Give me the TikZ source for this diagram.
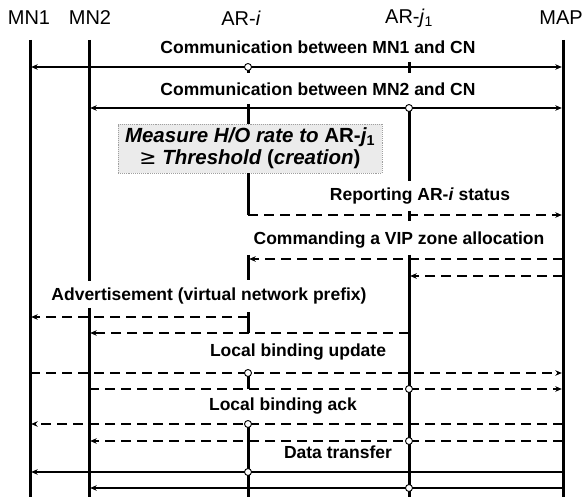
\documentclass[tikz,border=0pt]{standalone}
\usepackage{fontspec}
\usetikzlibrary{arrows.meta}
\newfontfamily\arialfam{Liberation Sans}
\newfontfamily\symfam{DejaVu Sans}
\newcommand\labfont{\arialfam\bfseries\fontsize{17.5}{20}\selectfont}
\newcommand\headfont{\arialfam\fontsize{20}{24}\selectfont}
\newcommand\boxfont{\arialfam\bfseries\fontsize{20.5}{22}\selectfont}

\tikzset{
  life/.style={line width=3pt},
  tip/.style={-{Stealth[length=6.5pt,width=5.5pt]}},
  msg/.style={line width=1.8pt, tip, shorten >=1.2pt},
  dmsg/.style={line width=2.1pt, tip, shorten >=1.2pt, dash pattern=on 10pt off 6pt},
  bimsg/.style={line width=1.8pt, {Stealth[length=6.5pt,width=5.5pt]}-{Stealth[length=6.5pt,width=5.5pt]}, shorten >=1.2pt, shorten <=1.2pt},
  lab/.style={font=\labfont, inner sep=0pt},
  head/.style={font=\headfont, inner sep=0pt},
  joint/.style={circle, draw, fill=white, line width=0.9pt, inner sep=0pt, minimum size=7pt},
  mbox/.style={draw=gray!75, densely dotted, line width=0.9pt, fill=gray!16,
    minimum width=264pt, minimum height=49pt, align=center, font=\boxfont, inner sep=2pt},
}

\begin{document}
\begin{tikzpicture}[x=1pt, y=-1pt]
\useasboundingbox (0,0) rectangle (584,497);

% lifeline positions
\coordinate (mn1) at (30,0);
\coordinate (mn2) at (89,0);
\coordinate (ari) at (248,0);
\coordinate (arj) at (409,0);
\coordinate (map) at (563,0);
\coordinate (top) at (0,40);
\coordinate (bot) at (0,497);

% message rows
\foreach \r/\y in {1/67, 2/108, 3/215, 4/259, 5/276, 6/317, 7/333,
                   8/373, 9/389, 10/424, 11/441, 12/472, 13/488}
  \coordinate (r\r) at (0,\y);

% headers
\node[head] (hmn1) at (29,18) {MN1};
\node[head] (hmn2) at (90,18) {MN2};
\node[head] (hari) at (241,18) {AR-\textit{i}};
\node[head] (harj) at (409,18) {AR-\textit{j}\textsubscript{1}};
\node[head, anchor=east] (hmap) at (583,18) {MAP};

% box
\node[mbox] (measure) at (250,148.5)
  {\itshape Measure H/O rate to \upshape AR-\itshape j\textsubscript{\upshape 1}\\
   {\symfam\mdseries ≥} \itshape Threshold \upshape(\itshape creation\upshape)};

% lifelines of the mobile nodes and the MAP
\draw[life] (mn1 |- top) -- (mn1 |- bot);
\draw[life] (mn2 |- top) -- (mn2 |- 0,281);
\draw[life] (mn2 |- 0,308) -- (mn2 |- bot);
\draw[life] (map |- top) -- (map |- bot);

% access router lifeline pieces
\draw[life] (ari |- r1) -- ++(0,6);
\draw[life] (ari |- 0,104) -- (ari |- measure.north);
\draw[life] (ari |- measure.south) -- (ari |- r3);
\draw[life] (ari |- 0,255) -- (ari |- 0,280);
\draw[life] (ari |- 0,312) -- (ari |- r7);
\draw[life] (ari |- r8) -- (ari |- r9);
\draw[life] (ari |- r10) -- (ari |- bot);

\draw[life] (arj |- 0,62) -- (arj |- 0,73);
\draw[life] (arj |- r2) -- (arj |- 0,181);
\draw[life] (arj |- 0,211) -- (arj |- 0,221);
\draw[life] (arj |- 0,255) -- (arj |- bot);

% labels
\node[lab] (l1) at (318,47) {Communication between MN1 and CN};
\node[lab] (l2) at (318,89) {Communication between MN2 and CN};
\node[lab] (l3) at (420,196) {Reporting AR-\textit{i} status};
\node[lab] (l4) at (399,240) {Commanding a VIP zone allocation};
\node[lab] (l5) at (209,296) {Advertisement (virtual network prefix)};
\node[lab] (l6) at (298,352) {Local binding update};
\node[lab] (l7) at (283,406) {Local binding ack};
\node[lab] (l8) at (338,452) {Data transfer};

% messages
\draw[bimsg] (mn1 |- r1) -- (map |- r1);
\draw[bimsg] (mn2 |- r2) -- (map |- r2);
\draw[dmsg] (ari |- r3) -- (map |- r3);
\draw[dmsg] (map |- r4) -- (ari |- r4);
\draw[dmsg] (map |- r5) -- (arj |- r5);
\draw[dmsg] (ari |- r6) -- (mn1 |- r6);
\draw[dmsg] (arj |- r7) -- (mn2 |- r7);
\draw[dmsg] (mn1 |- r8) -- (map |- r8);
\draw[dmsg] (mn2 |- r9) -- (map |- r9);
\draw[dmsg] (map |- r10) -- (mn1 |- r10);
\draw[dmsg] (map |- r11) -- (mn2 |- r11);
\draw[msg] (map |- r12) -- (mn1 |- r12);
\draw[msg] (map |- r13) -- (mn2 |- r13);

% junction marks
\foreach \n/\r in {ari/1, arj/2, ari/8, arj/9, ari/10, arj/11, ari/12, arj/13}
  \node[joint] (j\n\r) at (\n |- r\r) {};
\end{tikzpicture}
\end{document}
